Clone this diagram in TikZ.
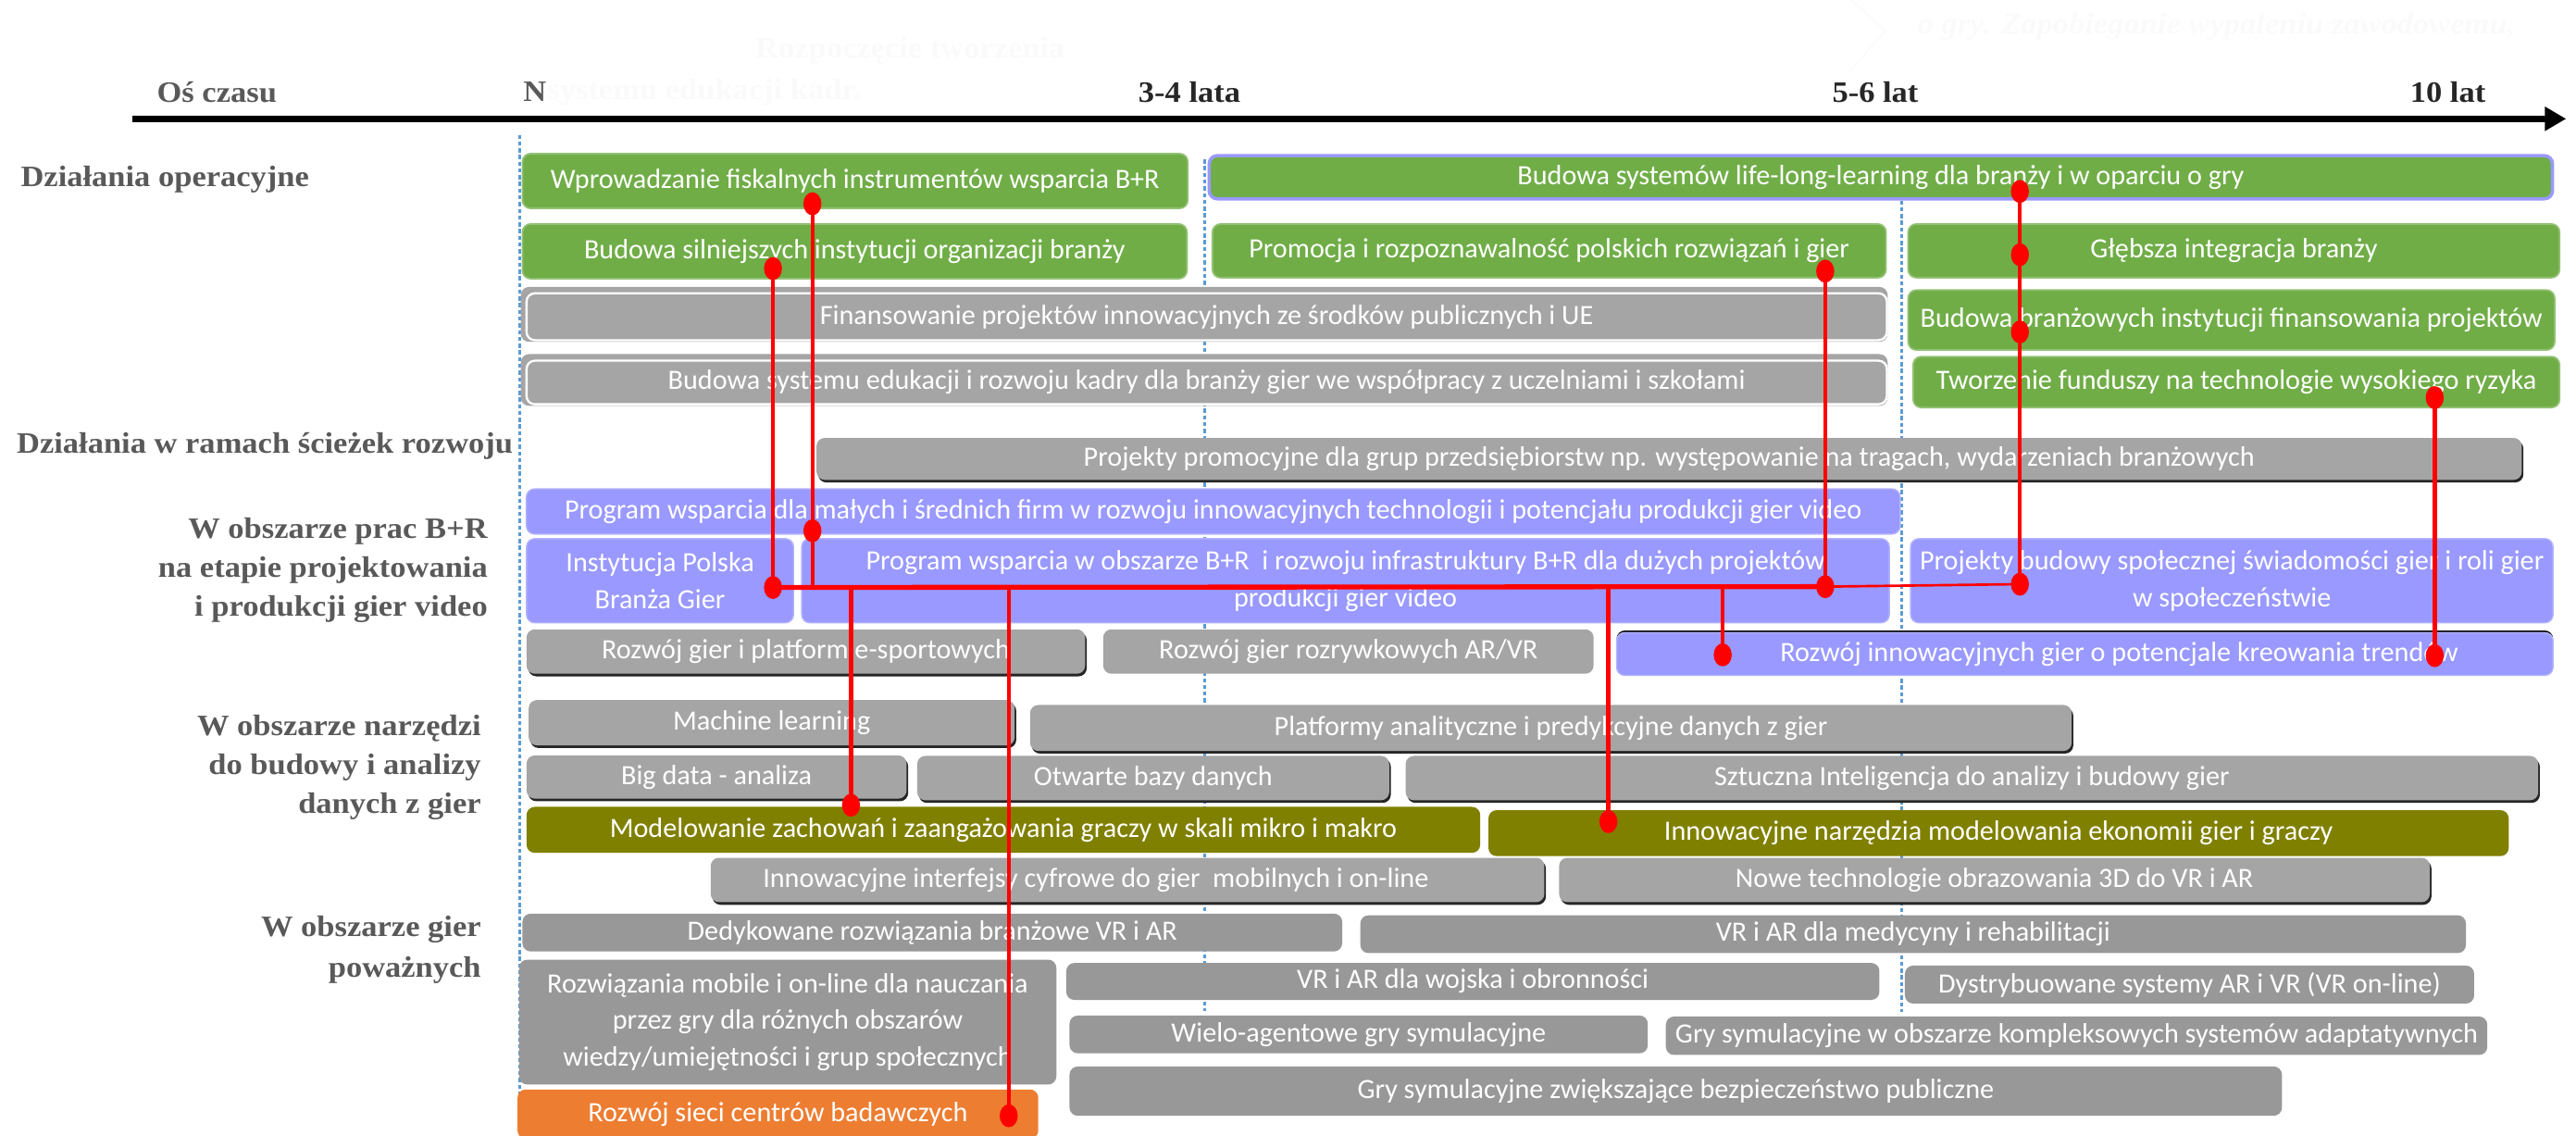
\documentclass[tikz,border=0pt]{standalone}
\usepackage{fontspec}
\newfontfamily\boxfont{Carlito}
\newfontfamily\lblfont{Liberation Serif}[FakeStretch=1.08]
\usetikzlibrary{shapes.geometric,shadows,arrows.meta}

\definecolor{cgreen}{HTML}{70AD47}
\definecolor{cgray}{HTML}{A5A5A5}
\definecolor{cgrayd}{HTML}{989898}
\definecolor{clav}{HTML}{9999FF}
\definecolor{colive}{HTML}{808000}
\definecolor{corange}{HTML}{ED7D31}
\definecolor{cblue}{HTML}{5B9BD5}
\definecolor{cred}{HTML}{FF0000}
\definecolor{clbl}{HTML}{595959}
\definecolor{caxis}{HTML}{262626}
\definecolor{cghost}{HTML}{FAFAFA}

% box: name, x1, y1, x2, y2, style, text
\newcommand\bx[7]{\node[#6,minimum width={(#4-#2)*1pt},minimum height={(#5-#3)*1pt}] (#1) at ({(#2+#4)/2},{(#3+#5)/2}) {#7};}

\tikzset{
  base/.style={rounded corners=5pt, inner sep=0pt, outer sep=0pt, text=white, align=center,
    font=\boxfont\fontsize{17}{22.4}\selectfont},
  txt/.style={inner sep=0pt, text=white, align=center, font=\boxfont\fontsize{17}{22.4}\selectfont},
  grn/.style={base, fill=cgreen, draw=cgreen!75!white, line width=1pt},
  grnb/.style={base, fill=cgreen, draw=clav, line width=2pt},
  gry/.style={base, fill=cgray},
  gryd/.style={base, fill=cgrayd},
  lav/.style={base, fill=clav, draw=clav!75!white, line width=0.8pt},
  olv/.style={base, fill=colive},
  org/.style={base, fill=corange},
  shd/.style={general shadow={fill=black!85, shadow xshift=1pt, shadow yshift=-1.6pt}},
  topline/.style={general shadow={fill=black, shadow yshift=1.3pt}},
  lbl/.style={inner sep=0pt, text=clbl, align=right, font=\lblfont\bfseries\fontsize{18}{23.5}\selectfont},
  axlbl/.style={inner sep=0pt, font=\lblfont\bfseries\fontsize{18}{22}\selectfont},
  ghost/.style={inner sep=0pt, text=cghost, font=\lblfont\bfseries\fontsize{18}{22}\selectfont},
  vdot/.style={draw=cblue, line width=1.6pt, dash pattern=on 2.5pt off 1.6pt},
  dot/.style={ellipse, fill=cred, minimum width=11pt, minimum height=14pt, inner sep=0pt},
  rline/.style={draw=cred, line width=2.4pt},
  rhub/.style={draw=cred, line width=3pt},
  rthin/.style={draw=cred, line width=1.5pt},
}

\begin{document}
\begin{tikzpicture}[x=1pt, y=-1pt]
\useasboundingbox (0,0) rectangle (1568,691);

% faint background notes
\node[ghost] (g1) at (554,31) {Rozpoczęcie tworzenia};
\node[ghost, anchor=west] (g2) at (333,56) {systemu edukacji kadr.};
\node[ghost, font=\lblfont\bfseries\itshape\fontsize{18}{22}\selectfont, anchor=west] (g3) at (1167,16) {o gry. Zapobieganie wypaleniu zawodowemu,};
\coordinate (gl1) at (1127,0);
\coordinate (gl2) at (1147.6,18.8);
\coordinate (gl3) at (1124.5,45);
\draw[cghost, line width=0.8pt] (gl1) -- (gl2) -- (gl3);

% time axis
\coordinate (axL) at (80.5,72.3);
\coordinate (axR) at (1562,72.3);
\draw[line width=3.8pt, -{Triangle[length=13pt, width=14pt]}] (axL) -- (axR);
\node[axlbl, text=clbl] (tOs) at (132,56) {Oś czasu};
\node[axlbl, text=clbl] (tN) at (325.5,56) {N};
\node[axlbl, text=caxis] (t34) at (724,56) {3-4 lata};
\node[axlbl, text=caxis] (t56) at (1141.5,56) {5-6 lat};
\node[axlbl, text=caxis] (t10) at (1490,56) {10 lat};

% time markers
\coordinate (v1a) at (316.5,82);   \coordinate (v1b) at (316.5,669);
\coordinate (v2a) at (733.5,97);   \coordinate (v2b) at (733.5,615);
\coordinate (v3a) at (1157.3,122); \coordinate (v3b) at (1157.3,616);
\draw[vdot] (v1a) -- (v1b);
\draw[vdot] (v2a) -- (v2b);
\draw[vdot] (v3a) -- (v3b);

% row labels
\node[lbl, anchor=west, align=left] (lOps) at (12.5,109) {Działania operacyjne};
\node[lbl, anchor=west, align=left] (lPath) at (10,271.5) {Działania w ramach ścieżek rozwoju};
\node[lbl, anchor=east] (lRD) at (297,347) {W obszarze prac B+R\\na etapie projektowania\\i produkcji gier video};
\node[lbl, anchor=east] (lTools) at (293,467) {W obszarze narzędzi\\do budowy i analizy\\danych z gier};
\node[lbl, anchor=east, font=\lblfont\bfseries\fontsize{18}{24.5}\selectfont] (lSer) at (293,578) {W obszarze gier\\poważnych};

% operational actions
\bx{op1}{318}{93.5}{723}{126.8}{grn}{Wprowadzanie fiskalnych instrumentów wsparcia B+R}
\bx{op2}{736}{94.7}{1553.7}{121}{grnb}{Budowa systemów life-long-learning dla branży i w oparciu o gry}
\bx{op3}{318}{136.3}{722.5}{169.6}{grn}{Budowa silniejszych instytucji organizacji branży}
\bx{op4}{738}{136.3}{1148}{169}{grn}{Promocja i rozpoznawalność polskich rozwiązań i gier}
\bx{op5}{1161.5}{136.3}{1558}{169}{grn}{Głębsza integracja branży}
\bx{op6f}{317}{174.6}{1149}{208}{gry}{}
\bx{op6}{320.5}{178.5}{1148.5}{207}{gry, draw=white, line width=1.3pt}{Finansowanie projektów innowacyjnych ze środków publicznych i UE}
\bx{op7}{1161.5}{176.5}{1555}{213}{grn}{Budowa branżowych instytucji finansowania projektów}
\bx{op8f}{317}{215.5}{1149}{247}{gry}{}
\bx{op8}{320.5}{219.5}{1148.5}{246}{gry, draw=white, line width=1.3pt}{Budowa systemu edukacji i rozwoju kadry dla branży gier we współpracy z uczelniami i szkołami}
\bx{op9}{1164.5}{217}{1558}{248}{grn}{Tworzenie funduszy na technologie wysokiego ryzyka}

% development paths
\bx{pa1}{497}{266.5}{1535}{292}{gry, shd}{Projekty promocyjne dla grup przedsiębiorstw np. występowanie na tragach, wydarzeniach branżowych}

% R&D area
\bx{rd1}{320.4}{297.5}{1156.6}{325}{lav}{Program wsparcia dla małych i średnich firm w rozwoju innowacyjnych technologii i potencjału produkcji gier video}
\bx{rd2}{320.5}{327.8}{483}{379}{lav}{Instytucja Polska\\Branża Gier}
\bx{rd3}{488}{327.8}{1150}{379}{lav}{Program wsparcia w obszarze B+R \ i rozwoju infrastruktury B+R dla dużych projektów\\produkcji gier video}
\bx{rd4}{1163}{327.8}{1554}{379}{lav}{Projekty budowy społecznej świadomości gier i roli gier\\w społeczeństwie}
\bx{rd5}{320.5}{383}{660.5}{410}{gry, shd}{Rozwój gier i platform e-sportowych}
\bx{rd6}{671.5}{383}{970}{410}{gry}{Rozwój gier rozrywkowych AR/VR}
\bx{rd7}{984}{385}{1554}{411}{lav, topline}{}
\node[txt] (rd7t) at (1290,398) {Rozwój innowacyjnych gier o potencjale kreowania trendów};

% tools for game data
\bx{tl1}{321.8}{426}{617.6}{453.6}{gry, shd}{Machine learning}
\bx{tl2}{627}{429}{1261}{457}{gry, shd}{Platformy analityczne i predykcyjne danych z gier}
\bx{tl3}{320.5}{459.7}{551.8}{486}{gry, shd}{Big data - analiza}
\bx{tl4}{558.3}{460}{845.6}{487}{gry, shd}{Otwarte bazy danych}
\bx{tl5}{855.6}{460}{1545}{487}{gry, shd}{Sztuczna Inteligencja do analizy i budowy gier}
\bx{tl6}{320.5}{491}{901}{519}{olv}{Modelowanie zachowań i zaangażowania graczy w skali mikro i makro}
\bx{tl7}{906}{493}{1527}{521}{olv}{Innowacyjne narzędzia modelowania ekonomii gier i graczy}
\bx{tl8}{432.6}{522}{940}{549}{gry, shd}{}
\node[txt] (tl8t) at (667,535.5) {Innowacyjne interfejsy cyfrowe do gier \ mobilnych i on-line};
\bx{tl9}{949}{522}{1479}{549}{gry, shd}{Nowe technologie obrazowania 3D do VR i AR}

% serious games
\bx{sg1}{318}{556}{817}{579}{gryd}{Dedykowane rozwiązania branżowe VR i AR}
\bx{sg2}{828}{557}{1501}{580}{gryd}{VR i AR dla medycyny i rehabilitacji}
\bx{sg3}{316}{584}{643}{660}{gryd}{Rozwiązania mobile i on-line dla nauczania\\przez gry dla różnych obszarów\\wiedzy/umiejętności i grup społecznych}
\bx{sg4}{649}{586}{1144}{608.5}{gryd}{VR i AR dla wojska i obronności}
\bx{sg5}{1159.5}{587.6}{1506}{610.7}{gryd}{Dystrybuowane systemy AR i VR (VR on-line)}
\bx{sg6}{651}{618}{1003}{641}{gryd}{Wielo-agentowe gry symulacyjne}
\bx{sg7}{1014}{618.6}{1514}{642}{gryd}{Gry symulacyjne w obszarze kompleksowych systemów adaptatywnych}
\bx{sg8}{651}{649}{1389}{679}{gryd}{Gry symulacyjne zwiększające bezpieczeństwo publiczne}
\bx{sg9}{315}{663}{632}{693}{org}{Rozwój sieci centrów badawczych}

% red link points
\node[dot] (r1) at (494.5,124) {};
\node[dot] (r2) at (470.5,163.4) {};
\node[dot] (r3) at (1111,165) {};
\node[dot] (r4) at (1229.5,116.5) {};
\node[dot] (r5) at (1229.5,155) {};
\node[dot] (r6) at (1229.5,202) {};
\node[dot] (r7) at (1482,242) {};
\node[dot] (r8) at (494.5,323) {};
\node[dot] (h0) at (470.5,357.5) {};
\node[dot] (h1) at (1111,357) {};
\node[dot] (h2) at (1229.5,355.5) {};
\node[dot] (r9) at (1048.6,398.5) {};
\node[dot] (r10) at (1482,399) {};
\node[dot] (r11) at (518,490) {};
\node[dot] (r12) at (979,500) {};
\node[dot] (r13) at (614,679) {};
\coordinate (j0) at (494.5,357.5);
\coordinate (j1) at (518,357.5);
\coordinate (j2) at (614,357.5);
\coordinate (j3) at (979,357.2);
\coordinate (j4) at (1048.6,357.2);

% red links
\draw[rhub] (h0.center) -- (h1.center);
\draw[rthin] (h1.center) -- (h2.center);
\draw[rline] (r1.center) -- (r8.center) -- (j0);
\draw[rline] (r2.center) -- (h0.center);
\draw[rline] (r3.center) -- (h1.center);
\draw[rline] (r4.center) -- (r5.center) -- (r6.center) -- (h2.center);
\draw[rline] (r7.center) -- (r10.center);
\draw[rline] (j1) -- (r11.center);
\draw[rline] (j2) -- (r13.center);
\draw[rline] (j3) -- (r12.center);
\draw[rline] (j4) -- (r9.center);
\end{tikzpicture}
\end{document}
